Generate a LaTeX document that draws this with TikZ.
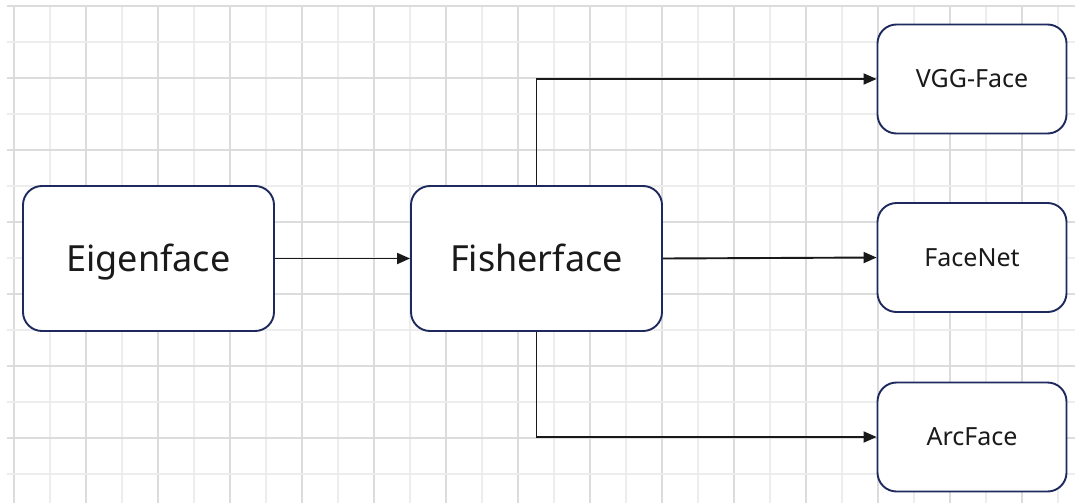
\documentclass[tikz,border=0pt]{standalone}
\usepackage{fontspec}
\setmainfont{Noto Sans}
\usetikzlibrary{arrows.meta}
\definecolor{boxline}{HTML}{1E2A5E}
\definecolor{gridA}{HTML}{DCDCDC}
\definecolor{gridB}{HTML}{EDEDED}
\definecolor{txt}{HTML}{1A1A1A}
\tikzset{
  box/.style={draw=boxline, line width=1.9pt, rounded corners=19pt, fill=white, inner sep=0pt, text=txt, text depth=0pt},
  bigbox/.style={box, minimum width=251pt, minimum height=145pt, text height=25.7pt, font=\fontsize{36}{40}\selectfont},
  smallbox/.style={box, minimum width=189pt, minimum height=109pt, text height=17.9pt, font=\fontsize{25}{28}\selectfont},
  conn/.style={line width=1.9pt, draw=black!90, -{Triangle[length=13pt,width=11pt]}},
}
\begin{document}
\begin{tikzpicture}[x=1pt,y=-1pt]
\useasboundingbox (0,0) rectangle (1075,503);
\fill[white] (0,0) rectangle (1075,503);
% grid
\foreach \i in {0,...,29}{
  \pgfmathsetmacro{\xx}{14+36*\i}
  \ifodd\i \def\gc{gridB}\else\def\gc{gridA}\fi
  \draw[\gc, line width=1.3pt] (\xx,6) -- (\xx,503);
}
\foreach \j in {0,...,13}{
  \pgfmathsetmacro{\yy}{6+36*\j}
  \ifodd\j \def\gc{gridB}\else\def\gc{gridA}\fi
  \draw[\gc, line width=1.3pt] (7,\yy) -- (1075,\yy);
}
% nodes
\node[bigbox] (eig) at (148.5,258.5) {Eigenface};
\node[bigbox] (fis) at (536.5,258.5) {Fisherface};
\node[smallbox] (vgg) at (972,79) {VGG-Face};
\node[smallbox] (fn) at (972,257.5) {FaceNet};
\node[smallbox] (arc) at (972,437) {ArcFace};
% connectors
\draw[conn] (eig.east) -- (fis.west);
\draw[conn] (fis.east) -- (fn.west);
\draw[conn] (fis.north) |- (vgg.west);
\draw[conn] (fis.south) |- (arc.west);
\end{tikzpicture}
\end{document}
